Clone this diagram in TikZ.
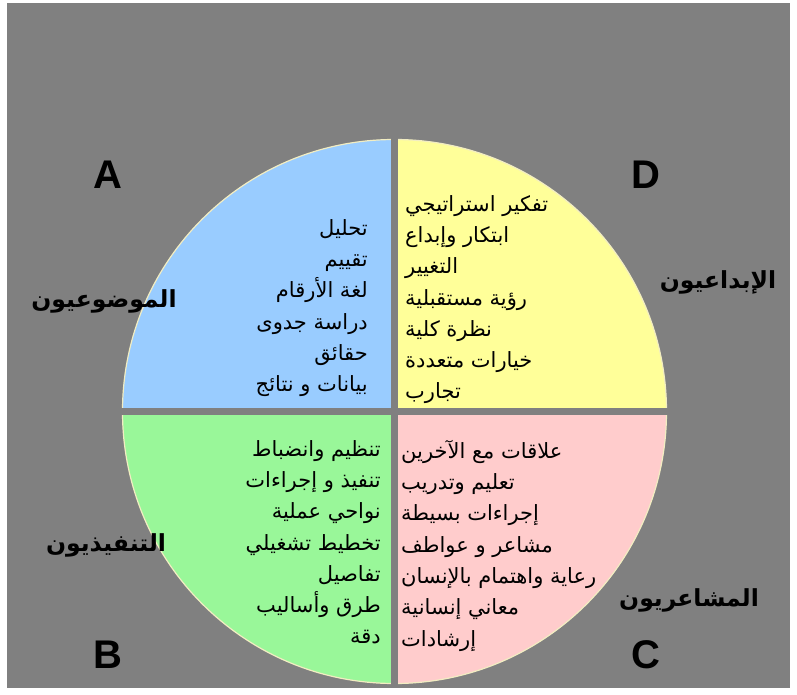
\documentclass[tikz,border=0pt]{standalone}
\usepackage{fontspec}
\setmainfont{Liberation Sans}
\newfontfamily\arabicfont[Script=Arabic]{DejaVu Sans}
\TeXXeTstate=1

\definecolor{bggray}{HTML}{808080}
\definecolor{quadA}{HTML}{99CCFF}
\definecolor{quadB}{HTML}{99F799}
\definecolor{quadC}{HTML}{FFCCCC}
\definecolor{quadD}{HTML}{FFFF99}
\definecolor{rimcream}{HTML}{F2EDC2}

\tikzset{
  letter/.style={font=\fontsize{40}{40}\selectfont\bfseries, text=black, inner sep=0pt},
  kind/.style={font=\arabicfont\fontsize{23.5}{25}\selectfont\bfseries, text=black, inner sep=0pt},
  itemsright/.style={font=\arabicfont\fontsize{21}{31.3}\selectfont, align=right, inner sep=0pt},
  itemsleft/.style={font=\arabicfont\fontsize{21}{31.3}\selectfont, align=left, inner sep=0pt}
}

\begin{document}
\begin{tikzpicture}[x=1pt,y=-1pt]
    \useasboundingbox (0,0) rectangle (797,695);
    \fill[white] (0,0) rectangle (797,695);
    \fill[bggray] (7,3) rectangle (790,688);

    \coordinate (cen) at (394.5,411.5);

    % the four quarters
    \begin{scope}
        \clip (cen) circle[radius=272pt];
        \fill[quadA] (cen) rectangle (100,120);
        \fill[quadD] (cen) rectangle (690,120);
        \fill[quadB] (cen) rectangle (100,700);
        \fill[quadC] (cen) rectangle (690,700);
    \end{scope}
    \draw[rimcream, line width=1.2pt] (cen) circle[radius=272pt];

    % gaps between quarters
    \fill[bggray] (391,130) rectangle (398,686);
    \fill[bggray] (110,408) rectangle (680,415);

    % corner letters
    \node[letter] (la) at (108,175) {A};
    \node[letter] (ld) at (646,175) {D};
    \node[letter] (lb) at (108,655) {B};
    \node[letter] (lc) at (646,655) {C};

    % kinds
    \node[kind] (ka) at (104,301) {\beginR الموضوعيون\endR};
    \node[kind] (kd) at (718,282) {\beginR الإبداعيون\endR};
    \node[kind] (kb) at (106,545) {\beginR التنفيذيون\endR};
    \node[kind] (kc) at (689,600) {\beginR المشاعريون\endR};

    % lists
    \node[itemsright, anchor=north east] (ia) at (368,219) {%
        \beginR تحليل\endR\\
        \beginR تقييم\endR\\
        \beginR لغة الأرقام\endR\\
        \beginR دراسة جدوى\endR\\
        \beginR حقائق\endR\\
        \beginR بيانات و نتائج\endR};
    \node[itemsleft, anchor=north west] (id) at (405,195) {%
        \beginR تفكير استراتيجي\endR\\
        \beginR ابتكار وإبداع\endR\\
        \beginR التغيير\endR\\
        \beginR رؤية مستقبلية\endR\\
        \beginR نظرة كلية\endR\\
        \beginR خيارات متعددة\endR\\
        \beginR تجارب\endR};
    \node[itemsright, anchor=north east] (ib) at (381,440) {%
        \beginR تنظيم وانضباط\endR\\
        \beginR تنفيذ و إجراءات\endR\\
        \beginR نواحي عملية\endR\\
        \beginR تخطيط تشغيلي\endR\\
        \beginR تفاصيل\endR\\
        \beginR طرق وأساليب\endR\\
        \beginR دقة\endR};
    \node[itemsleft, anchor=north west] (ic) at (401,440) {%
        \beginR علاقات مع الآخرين\endR\\
        \beginR تعليم وتدريب\endR\\
        \beginR إجراءات بسيطة\endR\\
        \beginR مشاعر و عواطف\endR\\
        \beginR رعاية واهتمام بالإنسان\endR\\
        \beginR معاني إنسانية\endR\\
        \beginR إرشادات\endR};
\end{tikzpicture}
\end{document}
